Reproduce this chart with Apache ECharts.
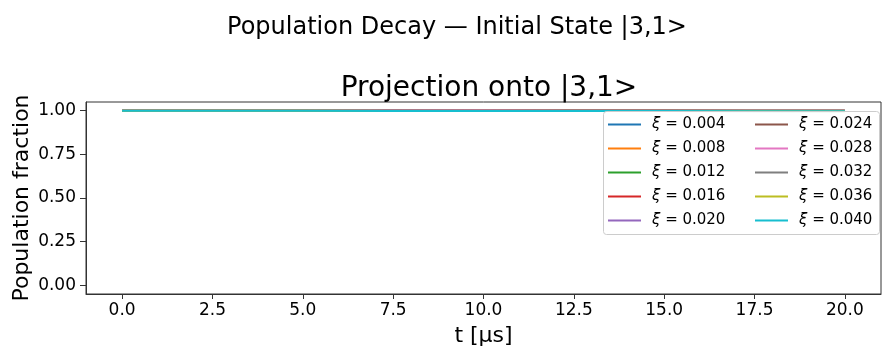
<!DOCTYPE html>
<html>
<head>
<meta charset="utf-8">
<script src="https://cdn.jsdelivr.net/npm/echarts@6/dist/echarts.min.js"></script>
<style>html,body{margin:0;padding:0;background:#fff}#c{width:882px;height:351px}</style>
</head>
<body>
<div id="c"></div>
<script>
var times = [0, 2.5, 5, 7.5, 10, 12.5, 15, 17.5, 20];
var xiLabels = ['0.004','0.008','0.012','0.016','0.020','0.024','0.028','0.032','0.036','0.040'];
var pop_0004 = [1.0000, 1.0000, 1.0000, 1.0000, 1.0000, 1.0000, 0.9999, 0.9999, 0.9999];
var pop_0008 = [1.0000, 1.0000, 1.0000, 0.9999, 0.9999, 0.9999, 0.9999, 0.9999, 0.9998];
var pop_0012 = [1.0000, 1.0000, 0.9999, 0.9999, 0.9999, 0.9998, 0.9998, 0.9997, 0.9997];
var pop_0016 = [1.0000, 0.9999, 0.9999, 0.9998, 0.9998, 0.9997, 0.9996, 0.9996, 0.9995];
var pop_0020 = [1.0000, 0.9999, 0.9998, 0.9997, 0.9996, 0.9995, 0.9994, 0.9993, 0.9992];
var pop_0024 = [1.0000, 0.9999, 0.9997, 0.9996, 0.9994, 0.9993, 0.9992, 0.9990, 0.9989];
var pop_0028 = [1.0000, 0.9998, 0.9996, 0.9994, 0.9993, 0.9991, 0.9989, 0.9987, 0.9985];
var pop_0032 = [1.0000, 0.9998, 0.9995, 0.9993, 0.9990, 0.9988, 0.9986, 0.9983, 0.9981];
var pop_0036 = [1.0000, 0.9997, 0.9994, 0.9991, 0.9988, 0.9985, 0.9982, 0.9979, 0.9976];
var pop_0040 = [1.0000, 0.9996, 0.9993, 0.9989, 0.9985, 0.9981, 0.9978, 0.9974, 0.9970];
var xTicks = [0, 2.5, 5, 7.5, 10, 12.5, 15, 17.5, 20];
var yTicks = [0, 0.25, 0.5, 0.75, 1.0];

var allPops = [pop_0004, pop_0008, pop_0012, pop_0016, pop_0020, pop_0024, pop_0028, pop_0032, pop_0036, pop_0040];
var colors = ['#1f77b4','#ff7f0e','#2ca02c','#d62728','#9467bd','#8c564b','#e377c2','#7f7f7f','#bcbd22','#17becf'];
var FONT = 'DejaVu Sans';

var series = allPops.map(function (arr, i) {
  return {
    name: 'ξ = ' + xiLabels[i],
    type: 'line',
    showSymbol: false,
    symbol: 'none',
    data: times.map(function (t, j) { return [t, arr[j]]; }),
    lineStyle: { width: 2, color: colors[i] },
    itemStyle: { color: colors[i] },
    z: 2
  };
});
var names = series.map(function (s) { return s.name; });

function makeLegend(left, data) {
  return {
    orient: 'vertical',
    left: left, top: 117,
    itemGap: 9,
    itemWidth: 33, itemHeight: 14,
    padding: 0,
    z: 10,
    icon: 'path://M0,6 L33,6 L33,8 L0,8 Z',
    formatter: function (name) { return '{i|ξ}{n|' + name.slice(1) + '}'; },
    textStyle: { fontFamily: FONT, fontSize: 15, color: '#000', lineHeight: 14, padding: [0, 0, 0, 6],
      rich: {
        i: { fontFamily: FONT, fontStyle: 'italic', fontSize: 15, lineHeight: 14, color: '#000' },
        n: { fontFamily: FONT, fontSize: 15, lineHeight: 14, color: '#000' }
      } },
    data: data
  };
}

var chart = echarts.init(document.getElementById('c'));
chart.setOption({
  animation: false,
  textStyle: { fontFamily: FONT },
  title: [
    { text: 'Population Decay — Initial State |3,1>', left: 452, top: 11, textAlign: 'center',
      textStyle: { fontFamily: FONT, fontSize: 24, fontWeight: 'normal', color: '#000' } },
    { text: 'Projection onto |3,1>', left: 484, top: 70, textAlign: 'center',
      textStyle: { fontFamily: FONT, fontSize: 28, fontWeight: 'normal', color: '#000' } }
  ],
  grid: { left: 86, right: 1, top: 102, bottom: 57, show: true, borderColor: '#333', borderWidth: 1,
    backgroundColor: 'transparent', containLabel: false, outerBoundsMode: 'none' },
  xAxis: {
    type: 'value', min: -1, max: 21,
    name: 't [μs]', nameLocation: 'middle', nameGap: 31, nameMoveOverlap: false,
    nameTextStyle: { fontFamily: FONT, fontSize: 22, color: '#000' },
    axisLine: { show: true, onZero: false, lineStyle: { color: '#333', width: 1 } },
    axisTick: { show: true, length: 5, lineStyle: { color: '#333' }, customValues: xTicks },
    axisLabel: { customValues: xTicks, margin: 8, fontFamily: FONT, fontSize: 17, color: '#000',
      formatter: function (v) { return v.toFixed(1); } },
    splitLine: { show: false }
  },
  yAxis: {
    type: 'value', min: -0.05, max: 1.05,
    name: 'Population fraction', nameLocation: 'middle', nameGap: 53, nameMoveOverlap: false,
    nameTextStyle: { fontFamily: FONT, fontSize: 22, color: '#000' },
    axisLine: { show: true, onZero: false, lineStyle: { color: '#333', width: 1 } },
    axisTick: { show: true, length: 6, lineStyle: { color: '#333' }, customValues: yTicks },
    axisLabel: { customValues: yTicks, margin: 10, fontFamily: FONT, fontSize: 17, color: '#000',
      formatter: function (v) { return v.toFixed(2); } },
    splitLine: { show: false }
  },
  graphic: [{
    type: 'rect', z: 5,
    shape: { x: 603.5, y: 111.5, width: 276, height: 123, r: 3 },
    style: { fill: 'rgba(255,255,255,0.8)', stroke: '#cccccc', lineWidth: 1 }
  }],
  legend: [makeLegend(608, names.slice(0, 5)), makeLegend(755, names.slice(5))],
  series: series
});
</script>
</body>
</html>
